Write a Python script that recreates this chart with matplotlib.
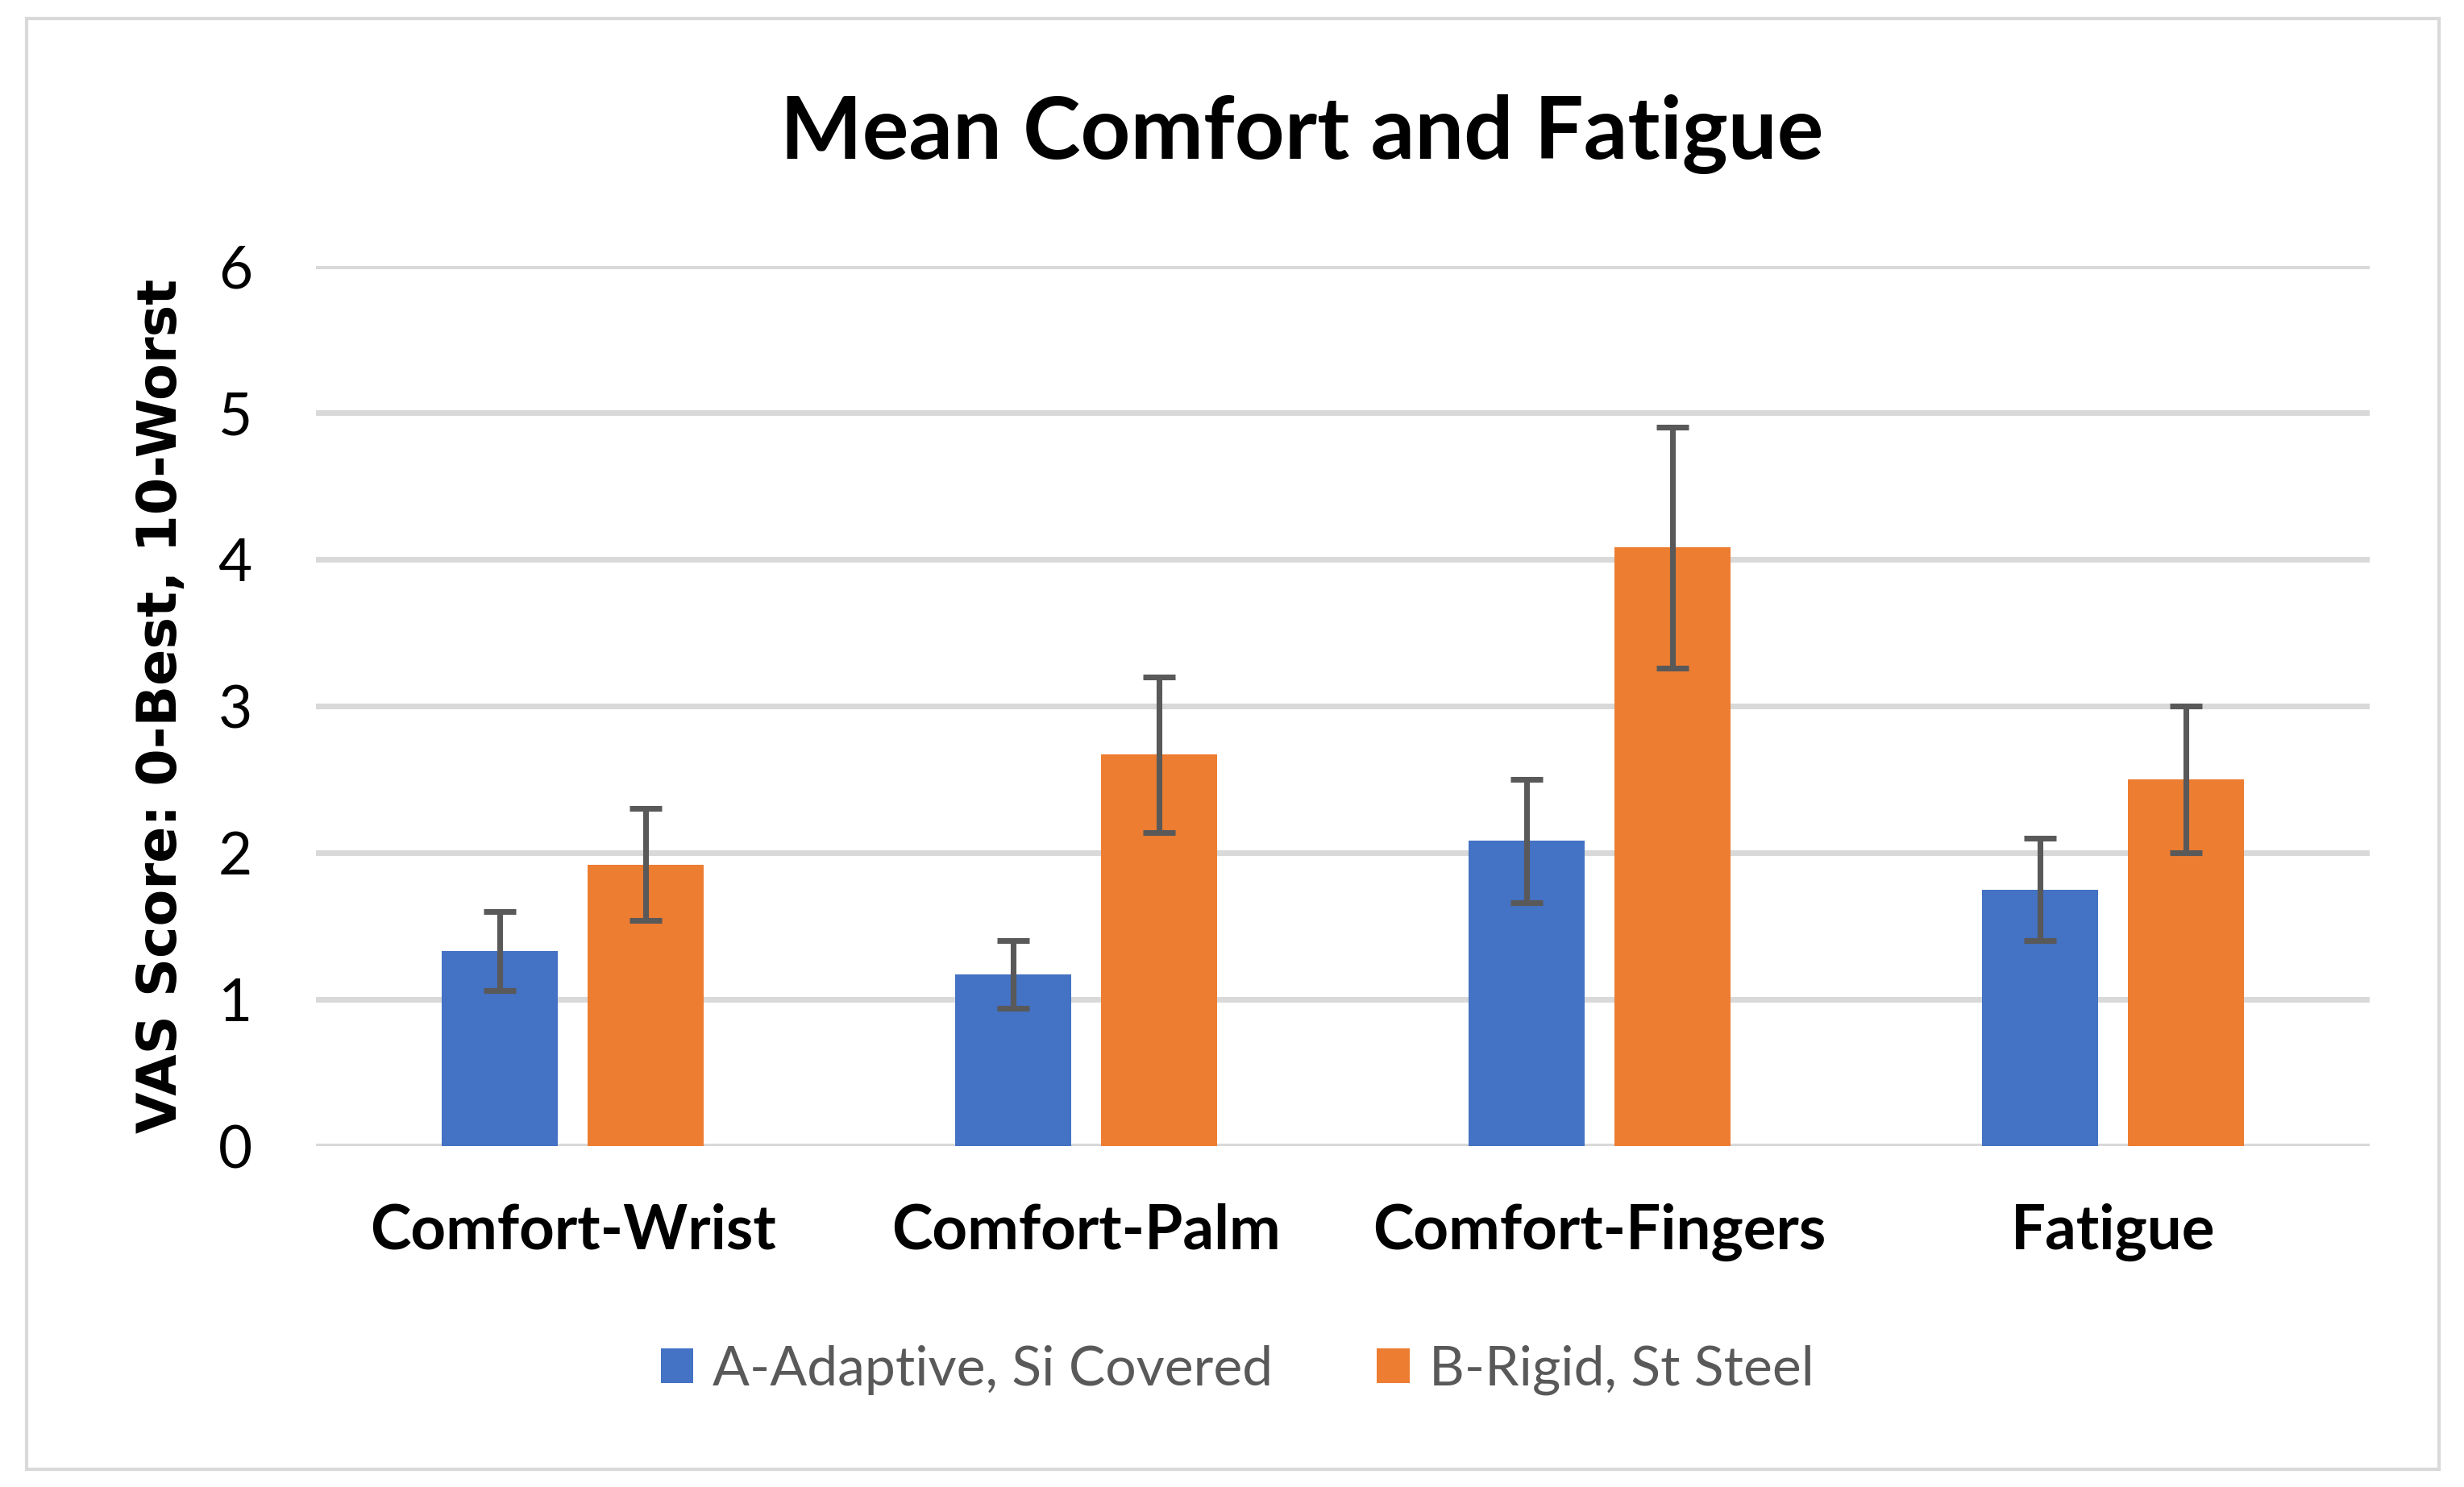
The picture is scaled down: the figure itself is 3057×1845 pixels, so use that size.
import matplotlib
matplotlib.use("Agg")
import matplotlib.pyplot as plt
from matplotlib.patches import Rectangle, Patch
import numpy as np

categories = ["Comfort-Wrist", "Comfort-Palm", "Comfort-Fingers", "Fatigue"]
series_names = ["A-Adaptive, Si Covered", "B-Rigid, St Steel"]
a_means = [1.33, 1.17, 2.08, 1.75]
a_err = [0.27, 0.23, 0.42, 0.35]
b_means = [1.92, 2.67, 4.08, 2.50]
b_err = [0.38, 0.53, 0.82, 0.50]
yticks = [0, 1, 2, 3, 4, 5, 6]

blue = "#4472C4"
orange = "#ED7D31"
grid_c = "#D9D9D9"
err_c = "#595959"

W, H, DPI = 3057, 1845, 300
fig = plt.figure(figsize=(W / DPI, H / DPI), dpi=DPI)
fig.patch.set_facecolor("white")

# outer border
fig.patches.append(Rectangle((33 / W, 1 - 1823 / H), (3026 - 33) / W, (1823 - 23) / H,
                             transform=fig.transFigure, fill=False,
                             edgecolor=grid_c, linewidth=1.0))

ax = fig.add_axes([392 / W, 1 - 1422 / H, (2940 - 392) / W, (1422 - 330) / H])
x = np.arange(len(categories))
bw = 0.226
off = 0.142

ax.bar(x - off, a_means, bw, color=blue, zorder=3, label=series_names[0])
ax.bar(x + off, b_means, bw, color=orange, zorder=3, label=series_names[1])
ax.errorbar(x - off, a_means, yerr=a_err, fmt="none", ecolor=err_c,
            elinewidth=1.7, capsize=4.7, capthick=1.7, zorder=4)
ax.errorbar(x + off, b_means, yerr=b_err, fmt="none", ecolor=err_c,
            elinewidth=1.7, capsize=4.7, capthick=1.7, zorder=4)

ax.set_xlim(-0.5, len(categories) - 0.5)
ax.set_ylim(0, 6)
ax.set_yticks(yticks)
ax.set_yticklabels([str(t) for t in yticks], fontfamily="Lato", fontsize=17.5)
ax.set_xticks(x)
ax.set_xticklabels(categories, fontfamily="Lato", fontsize=18.3, fontweight="bold")
ax.tick_params(axis="y", length=0, pad=19, colors="black")
ax.tick_params(axis="x", length=0, pad=17, colors="black")
ax.yaxis.grid(True, color=grid_c, linewidth=1.7, zorder=0)
ax.set_axisbelow(True)
for s in ax.spines.values():
    s.set_visible(False)

ax.set_ylabel("VAS Score: 0-Best, 10-Worst", fontfamily="DejaVu Sans",
              fontsize=16, fontweight="bold", labelpad=9)

fig.text(1615 / W, 1 - 166 / H, "Mean Comfort and Fatigue", ha="center", va="center",
         fontfamily="Lato", fontsize=25.9, fontweight="bold")

handles = [Patch(facecolor=blue), Patch(facecolor=orange)]
leg = fig.legend(handles, series_names, loc="center", bbox_to_anchor=(1535 / W, 1 - 1700 / H),
                 ncol=2, frameon=False, prop={"family": "Lato", "size": 16.3},
                 handlelength=0.6, handleheight=0.6, handletextpad=0.35, columnspacing=1.9)
for t in leg.get_texts():
    t.set_color(err_c)

fig.savefig("out.png", dpi=DPI)
